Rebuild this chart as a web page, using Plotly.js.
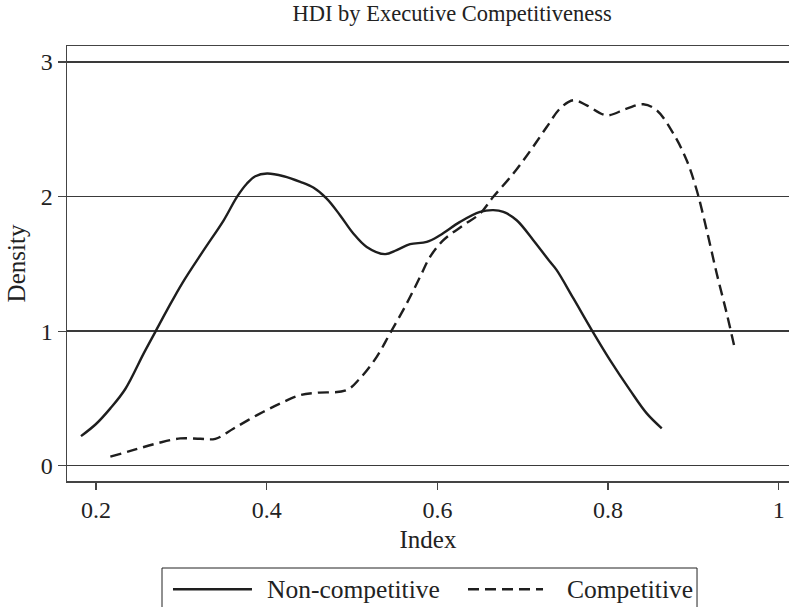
<!DOCTYPE html>
<html>
<head>
<meta charset="utf-8">
<script src="https://cdn.plot.ly/plotly-3.0.1.min.js"></script>
<style>html,body{margin:0;padding:0;background:#fff;}#chart{width:789px;height:607px;}</style>
</head>
<body>
<div id="chart"></div>
<script>
// Non-competitive (solid) density
const nonCompX = [0.1824,0.2000,0.2168,0.2343,0.2559,0.2695,0.2832,0.3008,0.3262,0.3496,0.3652,0.3769,0.3867,0.4004,0.4199,0.4394,0.4546,0.4703,0.4859,0.5015,0.5172,0.5386,0.5523,0.5680,0.5875,0.6031,0.6265,0.6500,0.6655,0.6773,0.6929,0.7124,0.7320,0.7398,0.7594,0.7809,0.8023,0.8257,0.8453,0.8629];
const nonCompY = [0.220,0.310,0.426,0.570,0.835,0.995,1.156,1.354,1.602,1.824,1.998,2.097,2.151,2.171,2.151,2.109,2.067,1.985,1.862,1.726,1.626,1.572,1.602,1.646,1.663,1.713,1.812,1.886,1.899,1.886,1.824,1.676,1.515,1.453,1.243,1.008,0.785,0.562,0.389,0.278];
// Competitive (dashed) density
const compX = [0.2168,0.2442,0.2715,0.2988,0.3222,0.3398,0.3613,0.3887,0.4160,0.4394,0.4586,0.4937,0.5093,0.5289,0.5445,0.5641,0.5797,0.5914,0.6070,0.6304,0.6500,0.6655,0.6890,0.7086,0.7281,0.7437,0.7593,0.7750,0.7984,0.8218,0.8413,0.8570,0.8765,0.8921,0.9039,0.9156,0.9273,0.9390,0.9476];
const compY = [0.067,0.117,0.166,0.203,0.200,0.200,0.277,0.376,0.463,0.525,0.542,0.562,0.649,0.809,0.983,1.206,1.403,1.552,1.676,1.787,1.874,1.998,2.171,2.338,2.517,2.654,2.716,2.678,2.604,2.654,2.686,2.641,2.468,2.270,2.047,1.750,1.429,1.132,0.896];
const seriesNames = ["Non-competitive","Competitive"];
const xTicks = [0.2,0.4,0.6,0.8,1];
const xTickText = ["0.2","0.4","0.6","0.8","1"];
const yTicks = [0,1,2,3];
const yTickText = ["0","1","2","3"];

const FONT = "Liberation Serif, Times New Roman, serif";
const INK = "#1e1e1e";
const DASH = "11px,6px";
const traces = [
  {x: nonCompX, y: nonCompY, name: seriesNames[0], mode: "lines",
   line: {color: INK, width: 2.4, shape: "spline", smoothing: 1.0}},
  {x: compX, y: compY, name: seriesNames[1], mode: "lines",
   line: {color: INK, width: 2.4, dash: DASH, shape: "spline", smoothing: 1.0}}
];

// legend drawn in paper coordinates (long line samples as in the reference)
const legY = -0.249;
const shapes = [
  {type: "rect", xref: "paper", yref: "paper", x0: 0.1316, x1: 0.8726, y0: -0.2, y1: -0.32,
   line: {color: "#222", width: 1}, fillcolor: "rgba(0,0,0,0)"},
  {type: "line", xref: "paper", yref: "paper", x0: 0.1468, x1: 0.2562, y0: legY, y1: legY,
   line: {color: INK, width: 2.4}},
  {type: "line", xref: "paper", yref: "paper", x0: 0.5554, x1: 0.6593, y0: legY, y1: legY,
   line: {color: INK, width: 2.4, dash: DASH}}
];
const annotations = [
  {text: seriesNames[0], xref: "paper", yref: "paper", x: 0.2742, y: legY, xanchor: "left", yanchor: "middle",
   showarrow: false, font: {family: FONT, size: 25.5, color: "#222"}},
  {text: seriesNames[1], xref: "paper", yref: "paper", x: 0.6898, y: legY, xanchor: "left", yanchor: "middle",
   showarrow: false, font: {family: FONT, size: 25.5, color: "#222"}}
];

const layout = {
  width: 789, height: 607,
  margin: {l: 67, r: 0, t: 46, b: 126, autoexpand: false},
  paper_bgcolor: "#ffffff", plot_bgcolor: "#ffffff",
  font: {family: FONT, size: 24, color: "#222"},
  title: {text: "HDI by Executive Competitiveness", xref: "container", x: 0.573, xanchor: "center",
          yref: "container", y: 0.978, yanchor: "middle", font: {family: FONT, size: 22.5, color: "#222"}},
  xaxis: {range: [0.166, 1.012], tickvals: xTicks, ticktext: xTickText, showgrid: false, zeroline: false,
          showline: true, mirror: true, linecolor: "#444", linewidth: 1.5,
          ticks: "outside", ticklen: 7, tickwidth: 1.2, tickcolor: "#444",
          tickfont: {family: FONT, size: 24, color: "#222"},
          title: {text: "Index", font: {family: FONT, size: 25, color: "#222"}, standoff: 8}},
  yaxis: {range: [-0.1136, 3.119], tickvals: yTicks, ticktext: yTickText, showgrid: true, gridcolor: "#3a3a3a", gridwidth: 1.5,
          zeroline: false, showline: true, linecolor: "#444", linewidth: 1.5,
          ticks: "outside", ticklen: 8, tickwidth: 1.2, tickcolor: "#444",
          tickfont: {family: FONT, size: 24, color: "#222"},
          title: {text: "Density", font: {family: FONT, size: 25, color: "#222"}, standoff: 8}},
  showlegend: false,
  shapes: shapes,
  annotations: annotations
};
Plotly.newPlot("chart", traces, layout, {displayModeBar: false, staticPlot: true});
</script>
</body>
</html>
